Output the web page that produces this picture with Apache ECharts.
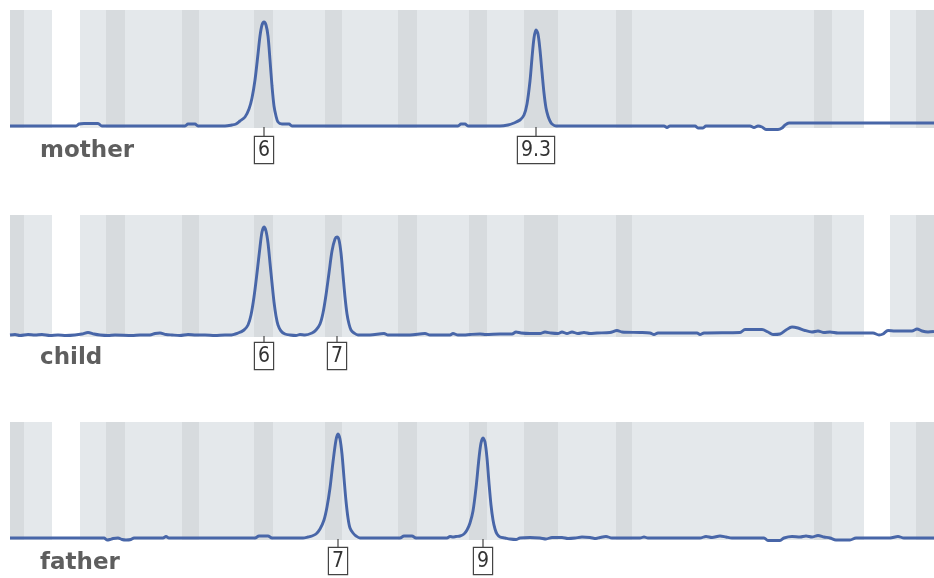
<!DOCTYPE html>
<html><head><meta charset="utf-8">
<script src="https://cdn.jsdelivr.net/npm/echarts@6/dist/echarts.min.js"></script>
<style>html,body{margin:0;padding:0;background:#fff}#c{width:934px;height:578px}</style>
</head><body><div id="c"></div>
<script>
const panelNames = ['mother', 'child', 'father'];
const lightBands = [[10,52],[80,864],[890,934]];
const darkStripes = [[10,24],[106,125],[182,199],[254,273],[325,342],[398,417],[469,487],[524,558],[616,632],[814,832],[916,934]];

const motherTrace = [[10,0],[40,0],[76,0],[79,2],[84,2.5],[98,2.5],[102,0],[150,0],[185,0],[188,2],[195,2],[198,0],[225,0],[232,1],[236,2],[240,5],[245,9],[249,17],[252,28],[255,46],[258,72],[260,90],[262,101],[264,104],[266,101],[268,90],[270,66],[272,40],[274,20],[276,10],[278,4],[282,2],[289,2],[292,0],[350,0],[420,0],[458,0],[461,2],[465,2],[468,0],[500,0],[508,1],[514,3],[520,6],[524,11],[527,22],[530,45],[532,68],[534,88],[536,96],[538,92],[540,76],[542,54],[544,33],[546,18],[548,10],[550,5],[552,2],[556,0],[610,0],[664,0],[667,-1.5],[670,0],[695,0],[698,-2],[703,-2],[706,0],[750,0],[754,-1.5],[758,0],[762,-1],[766,-3.5],[778,-3.5],[782,-2],[785,1],[789,3],[850,3],[934,3]];

const childTrace = [[10,0],[15,0.5],[20,-0.5],[28,0.5],[35,0],[42,0.5],[50,-0.5],[58,0],[66,-0.5],[75,0],[82,1],[88,2.5],[94,1],[100,0],[108,-0.5],[115,0],[132,-0.5],[140,0],[150,0],[155,1.5],[160,2],[166,0.5],[172,0],[180,-0.5],[188,0.5],[196,0],[205,0],[215,-0.5],[225,0],[230,0],[238,2],[244,5],[248,10],[251,20],[254,38],[257,62],[260,88],[262,103],[264,108],[266,104],[268,92],[270,72],[272,52],[274,33],[276,19],[278,10],[281,4],[285,1],[290,0],[296,-0.5],[300,0.5],[305,0],[312,2],[316,5],[320,11],[323,22],[326,40],[329,62],[332,84],[335,96],[337,98],[339,95],[341,82],[343,60],[345,38],[347,21],[349,11],[351,5],[354,2],[358,0],[370,0],[384,1.5],[388,0],[410,0],[425,1.5],[430,0],[450,0],[453,1.5],[458,0],[464,0],[470,0.5],[480,1],[486,0.5],[500,1],[512,1],[516,3],[521,2],[530,1.5],[540,1.5],[545,3],[551,2],[558,1.5],[562,3],[567,1.5],[572,3],[578,1.5],[584,2.5],[590,1.5],[597,2],[610,2.5],[617,4.5],[622,3],[640,2.5],[650,2],[654,0.5],[658,2],[680,2],[697,2],[700,0.5],[704,2],[740,2.5],[745,5.5],[762,5.5],[768,3],[773,0.5],[780,1],[786,5],[792,8],[798,7],[805,4.5],[812,3],[818,4],[824,2.5],[830,3],[838,2],[873,2],[879,0],[883,1],[888,4.5],[895,4],[905,4],[912,4],[917,6],[922,4],[928,3],[934,3.5]];

const fatherTrace = [[10,0],[60,0],[104,0],[107,-2],[110,-1.5],[113,-0.5],[118,0],[122,-1.5],[126,-2],[131,-1.5],[134,0],[163,0],[166,1.5],[169,0],[220,0],[255,0],[259,2],[268,2],[272,0],[303,0],[308,1],[312,2],[316,4],[320,9],[324,18],[327,31],[330,50],[333,76],[336,98],[338,104],[340,99],[342,84],[344,60],[346,37],[348,20],[350,10],[353,5],[356,2],[360,0],[400,0],[404,2],[412,2],[416,0],[447,0],[450,1.5],[453,1],[456,1.5],[460,2],[464,4],[467,8],[470,15],[473,27],[476,50],[479,80],[481,95],[483,100],[485,96],[487,80],[489,55],[491,33],[493,18],[495,9],[497,4],[500,1],[505,0],[510,-1],[516,-1.5],[520,0],[530,0.5],[540,0],[546,-1],[552,0.5],[562,0.5],[568,-0.5],[575,0],[582,1],[590,0.5],[596,-0.5],[600,0.5],[606,1.5],[612,0],[640,0],[644,1],[648,0],[700,0],[706,1.5],[712,0.5],[720,2],[726,1],[732,0],[764,0],[768,-2.5],[780,-2.5],[784,0],[792,1.5],[800,1],[806,2],[812,1],[818,2.5],[824,1],[830,0],[836,-2],[850,-2],[856,0],[890,0],[898,1.5],[904,0],[934,0]];

const motherAlleles = [[264,'6'],[536,'9.3']];
const childAlleles = [[264,'6'],[337,'7']];
const fatherAlleles = [[338,'7'],[483,'9']];

const traces = [motherTrace, childTrace, fatherTrace];
const alleles = [motherAlleles, childAlleles, fatherAlleles];

// layout (style)
const gridTops = [10, 215, 422];
const gridHeights = [118, 122, 118];
const yMaxes = [116, 120, 116];
const tickLens = [10, 7, 9];
const titleTops = [140, 347, 552];

const LIGHT = '#e4e8eb', DARK = '#d7dbde', LINE = '#4866a8';

const grid = [], xAxis = [], yAxis = [], series = [], title = [];
for (let i = 0; i < 3; i++) {
  grid.push({left: 10, right: 0, top: gridTops[i], height: gridHeights[i]});
  xAxis.push({gridIndex: i, type: 'value', min: 10, max: 934, show: false});
  yAxis.push({gridIndex: i, type: 'value', min: -2, max: yMaxes[i], show: false});
  title.push({text: panelNames[i], left: 40, top: titleTops[i], padding: 0,
    textStyle: {fontFamily: 'DejaVu Sans', fontWeight: 'bold', fontSize: 23, color: '#5e5e5e'}});
  series.push({type: 'line', xAxisIndex: i, yAxisIndex: i, data: [], silent: true,
    markArea: {silent: true, itemStyle: {color: LIGHT}, data: lightBands.map(b => [{xAxis: b[0]}, {xAxis: b[1]}])}});
  series.push({type: 'line', xAxisIndex: i, yAxisIndex: i, data: [], silent: true,
    markArea: {silent: true, itemStyle: {color: DARK}, data: darkStripes.map(b => [{xAxis: b[0]}, {xAxis: b[1]}])}});
  const tl = tickLens[i];
  series.push({type: 'line', xAxisIndex: i, yAxisIndex: i, data: traces[i], showSymbol: false,
    smooth: 0.3, clip: false, silent: true, z: 3,
    lineStyle: {color: LINE, width: 2.9},
    markPoint: {silent: true, symbol: 'rect', symbolSize: [1.2, tl], symbolOffset: [0, tl / 2 + 1],
      itemStyle: {color: '#444'},
      label: {show: true, position: 'bottom', distance: 0, formatter: p => p.name,
        fontFamily: "'DejaVu Sans Condensed', 'Liberation Sans Narrow', 'DejaVu Sans', sans-serif", fontSize: 21, lineHeight: 19,
        color: '#333', backgroundColor: '#fff', borderColor: '#444', borderWidth: 1.2, padding: [4, 3, 3, 3]},
      data: alleles[i].map(a => ({name: a[1], coord: [a[0], 0]}))}
  });
}

const chart = echarts.init(document.getElementById('c'), null, {renderer: 'canvas'});
chart.setOption({backgroundColor: '#fff', animation: false, title, grid, xAxis, yAxis, series});
</script></body></html>
